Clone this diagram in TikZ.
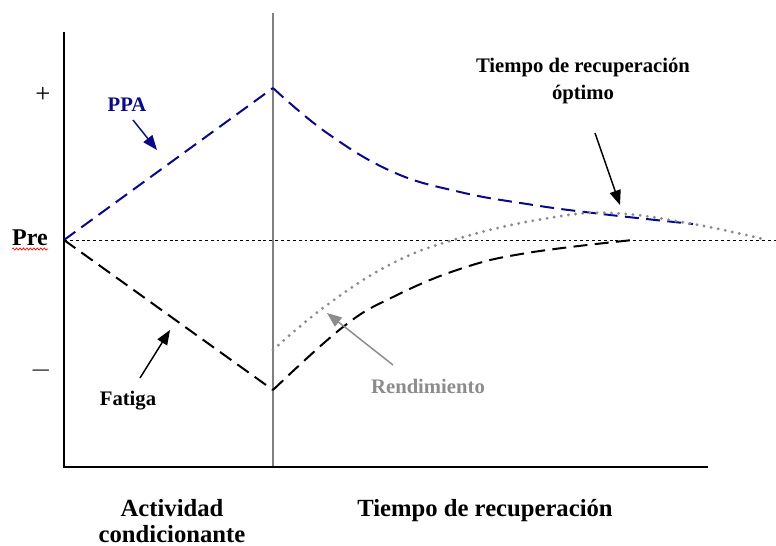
\documentclass[tikz,border=0pt]{standalone}
\usepackage{fontspec}
\setmainfont{Liberation Serif}
\usetikzlibrary{arrows.meta,decorations.pathmorphing}
\definecolor{ppablue}{RGB}{10,10,135}
\definecolor{rendgray}{RGB}{140,140,140}
\definecolor{vgray}{RGB}{128,128,128}
\begin{document}
\begin{tikzpicture}[x=0.75pt,y=-0.75pt,
  axisline/.style={line width=1.6pt,black},
  divline/.style={line width=1.1pt,vgray},
  preline/.style={line width=0.7pt,black,dash pattern=on 2.2pt off 2.2pt},
  ppacurve/.style={line width=1.5pt,ppablue,dash pattern=on 10.5pt off 5.5pt},
  fatcurve/.style={line width=1.5pt,black,dash pattern=on 10.5pt off 5.5pt},
  rendcurve/.style={line width=2.4pt,rendgray,line cap=round,dash pattern=on 0pt off 5.4pt},
  pointer/.style={line width=1.1pt,-{Triangle[length=11pt,width=8.5pt]}},
  smalllbl/.style={font=\fontsize{15.5}{18}\selectfont\bfseries,inner sep=0pt,anchor=base},
  biglbl/.style={font=\fontsize{18.5}{21}\selectfont\bfseries,inner sep=0pt,anchor=base,align=center},
]
\useasboundingbox (0,0) rectangle (776,546);
% axes
\coordinate (ytop) at (64,32);
\coordinate (orig) at (64,467);
\coordinate (xend) at (708,467);
\coordinate (dtop) at (273,13);
\coordinate (dbot) at (273,467);
\coordinate (pre0) at (64,240);
\coordinate (pre1) at (776,240);
\draw[preline] (pre0) -- (pre1);
\draw[divline] (dtop) -- (dbot);
\draw[axisline] (ytop) -- (orig) -- (xend);
% PPA
\coordinate (peak) at (273,88);
\coordinate (trough) at (273,390);
\draw[ppacurve] (pre0) -- (peak)
  plot[smooth,tension=0.7] coordinates {(273,88) (327,133) (393,172) (460,192) (527,204) (593,213) (693,224)};
% Fatiga
\draw[fatcurve] (pre0) -- (trough)
  plot[smooth,tension=0.7] coordinates {(273,390) (343,327) (393,297) (460,269) (527,253) (633,240)};
% Rendimiento
\draw[rendcurve] plot[smooth,tension=0.7] coordinates {(273,350) (327,305) (393,263) (460,238) (543,219) (610,213) (693,224) (767,240)};
% labels
\node (plus) at (43,95) {\fontsize{20}{20}\selectfont +};
\node (minus) at (41,371) {\fontsize{20}{20}\selectfont $-$};
\node[font=\fontsize{18}{20}\selectfont\bfseries,inner sep=0pt,anchor=base] (pre) at (30,245) {Pre};
\coordinate (ul0) at (12,249); \coordinate (ul1) at (48,249);
\draw[red,line width=0.5pt,decorate,decoration={snake,amplitude=0.8pt,segment length=2.6pt}] (ul0) -- (ul1);
\node[smalllbl,text=ppablue] (ppa) at (127,111) {PPA};
\node[smalllbl] (fat) at (128,405) {Fatiga};
\node[smalllbl,text=rendgray] (rend) at (428,393) {Rendimiento};
\node[smalllbl,align=center,anchor=base] (opt) at (583,99) {Tiempo de recuperación\\[2pt]óptimo};
\node[biglbl] (act) at (172,516) {Actividad};
\node[biglbl] (cond) at (172,542) {condicionante};
\node[biglbl] (trec) at (485,516) {Tiempo de recuperación};
% pointers
\coordinate (ppaA) at (133,120); \coordinate (ppaB) at (157,150);
\coordinate (fatA) at (140,378); \coordinate (fatB) at (170,330);
\coordinate (rendA) at (393,365); \coordinate (rendB) at (327,313);
\coordinate (optA) at (595,133); \coordinate (optB) at (620,205);
\draw[pointer,ppablue] (ppaA) -- (ppaB);
\draw[pointer] (fatA) -- (fatB);
\draw[pointer,rendgray] (rendA) -- (rendB);
\draw[pointer] (optA) -- (optB);
\end{tikzpicture}
\end{document}
